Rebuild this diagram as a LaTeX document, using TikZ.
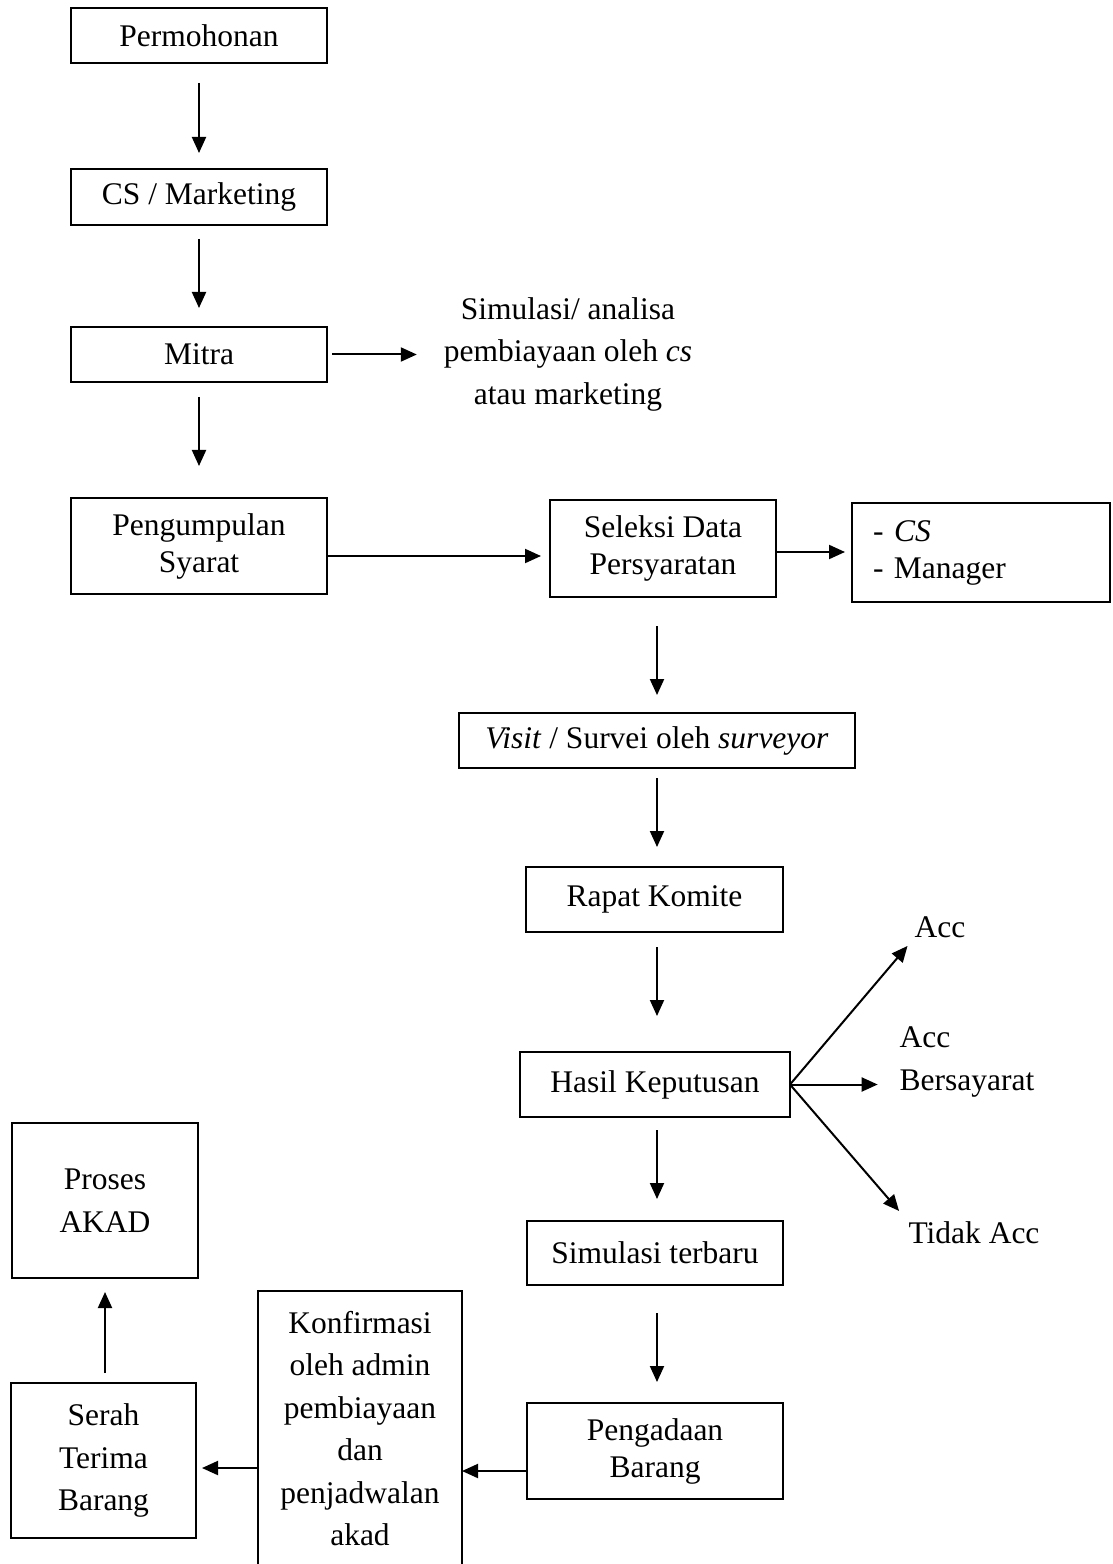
\documentclass[tikz,border=0pt]{standalone}
\usepackage{fontspec}
\setmainfont{Liberation Serif}
\usetikzlibrary{arrows.meta}

\begin{document}
\begin{tikzpicture}[x = 0.4pt, y = -0.4pt,
          line width        = 0.8pt,
          every node/.style = {inner sep = 0pt,
                               outer sep = 0pt,
                               font      = \fontsize{12.6}{17}\selectfont},
          box/.style        = {draw,
                               align = center},
          boxsize/.style 2 args = {minimum width  = #1*0.4pt,
                                   minimum height = #2*0.4pt},
          tight/.style      = {font = \fontsize{12.6}{14.8}\selectfont},
          flow/.style       = {-{Triangle[length = 6.4pt,
                                          width  = 5.6pt]}}]

  \clip (0,0) rectangle (1112,1564);

  \node [box, boxsize = {256}{55}]         at (199,35.5)    (perm)      {Permohonan};
  \node [box, boxsize = {256}{56}]         at (199,197)     (cs)        {CS / Marketing};
  \node [box, boxsize = {256}{55}]         at (199,354.5)   (mitra)     {Mitra};
  \node [box, tight, boxsize = {256}{96}]  at (199,546)     (peng)      {Pengumpulan\\Syarat};
  \node [box, tight, boxsize = {226}{97}]  at (663,548.5)   (sel)       {Seleksi Data\\Persyaratan};
  \node [box, tight, boxsize = {258}{99},
         text width = 86.4pt,
         align      = left]                at (981,552.5)   (staff)     {- \textit{CS}\\- Manager};
  \node [box, boxsize = {396}{55}]         at (657,740.5)   (visit)     {\textit{Visit} / Survei oleh \textit{surveyor}};
  \node [box, boxsize = {257}{65}]         at (654.5,899.5) (rapat)     {Rapat Komite};
  \node [box, boxsize = {270}{65}]         at (655,1084.5)  (hasil)     {Hasil Keputusan};
  \node [box, boxsize = {256}{64}]         at (655,1253)    (simter)    {Simulasi terbaru};
  \node [box, tight, boxsize = {256}{96}]  at (655,1451)    (pengadaan) {Pengadaan\\Barang};
  \node [box, boxsize = {204}{275}]        at (360,1428.5)  (konf)      {Konfirmasi\\oleh admin\\pembiayaan\\dan\\penjadwalan\\akad};
  \node [box, boxsize = {185}{155}]        at (103.5,1460.5) (serah)    {Serah\\Terima\\Barang};
  \node [box, boxsize = {186}{155}]        at (105,1200.5)  (proses)    {Proses\\AKAD};

  \node [align = center] at (568,354)  (simtext) {Simulasi/ analisa\\pembiayaan oleh \textit{cs}\\atau marketing};
  \node                  at (940,927)  (acc)     {Acc};
  \node [align = left]   at (967,1062) (accb)    {Acc\\Bersayarat};
  \node                  at (974,1233) (tidak)   {Tidak Acc};

  \draw [flow, shorten <= 8pt,   shorten >= 6.4pt]  (perm) -- (cs);
  \draw [flow, shorten <= 5.6pt, shorten >= 7.6pt]  (cs) -- (mitra);
  \draw [flow, shorten <= 6pt,   shorten >= 12.8pt] (mitra) -- (peng);
  \draw [flow, shorten <= 2pt,   shorten >= 10.8pt] (mitra.east) -- (mitra.east -| simtext.west);
  \draw [flow, shorten >= 3.6pt] ([yshift=-4pt]peng.east) -- ([yshift=-4pt]peng.east -| sel.west);
  \draw [flow, shorten >= 2.8pt] ([yshift=-1.4pt]sel.east) -- ([yshift=-1.4pt]sel.east -| staff.west);
  \draw [flow, shorten <= 11.6pt, shorten >= 7.2pt] (visit.north |- sel.south) -- (visit.north);
  \draw [flow, shorten <= 4pt,    shorten >= 8pt]   (visit.south) -- (visit.south |- rapat.north);
  \draw [flow, shorten <= 6pt,    shorten >= 14.4pt] (visit.south |- rapat.south) -- (visit.south |- hasil.north);
  \draw [flow, shorten <= 5.2pt,  shorten >= 8.8pt] (visit.south |- hasil.south) -- (visit.south |- simter.north);
  \draw [flow, shorten <= 11.2pt, shorten >= 8.4pt] (visit.south |- simter.south) -- (visit.south |- pengadaan.north);
  \draw [flow] ([yshift=-8pt]pengadaan.west) -- ([yshift=-8pt]pengadaan.west -| konf.east);
  \draw [flow, shorten >= 2.4pt] ([yshift=-15.8pt]konf.west) -- ([yshift=-15.8pt]konf.west -| serah.east);
  \draw [flow, shorten <= 4pt, shorten >= 5.6pt] (proses.south |- serah.north) -- (proses.south);
  \draw [flow, shorten >= 4.4pt] (hasil.east) -- (acc.south west);
  \draw [flow, shorten >= 8.8pt] (hasil.east) -- (hasil.east -| accb.west);
  \draw [flow, shorten >= 5.8pt] (hasil.east) -- (tidak.north west);
\end{tikzpicture}
\end{document}
